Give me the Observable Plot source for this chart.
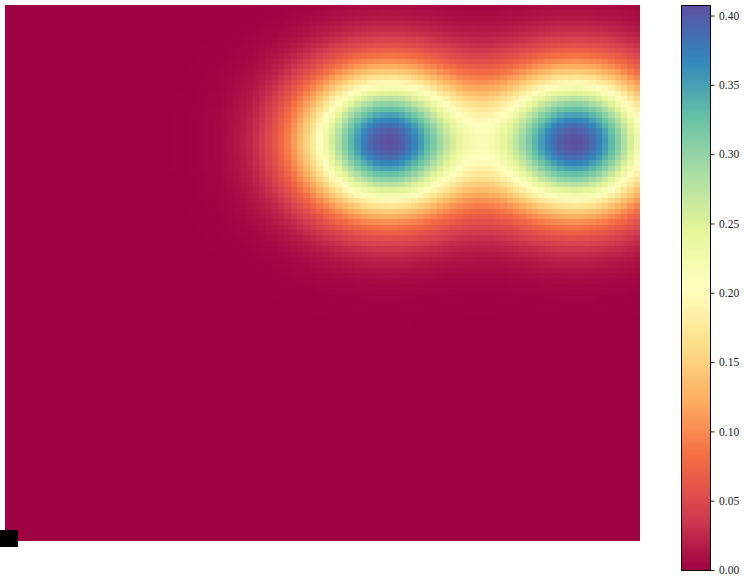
<!DOCTYPE html>
<html><head><meta charset="utf-8">
<script src="https://cdn.jsdelivr.net/npm/d3@7"></script>
<script src="https://cdn.jsdelivr.net/npm/@observablehq/plot@0.6"></script>
<style>
html,body{margin:0;padding:0;background:#fff;}
#wrap{position:relative;width:744px;height:588px;overflow:hidden;}
#wrap svg{position:absolute;left:0;top:0;}
#marker{position:absolute;left:0;top:530px;width:18px;height:17px;background:#000;z-index:5;}
</style></head><body>
<div id="wrap"><div id="marker"></div></div>
<script>
// value along the centre row of the field, per column (left to right)
const xProfile = [
0,0,0,0,0,0,0,0,0,0, 0,0,0,0,0,0,0,0,0,0,
0,0,0.0001,0.0001,0.0002,0.0003,0.0004,0.0006,0.0009,0.0013,
0.0019,0.0028,0.0039,0.0054,0.0074,0.0101,0.0135,0.0179,0.0234,0.0302,
0.0386,0.0487,0.0608,0.0749,0.0911,0.1094,0.1301,0.1525,0.1770,0.2027,
0.2294,0.2563,0.2833,0.3091,0.3332,0.3551,0.3738,0.3888,0.3996,0.4060,
0.4076,0.4046,0.3972,0.3858,0.3710,0.3534,0.3340,0.3136,0.2931,0.2734,
0.2557,0.2404,0.2283,0.2201,0.2157,0.2157,0.2201,0.2283,0.2404,0.2557,
0.2734,0.2931,0.3136,0.3340,0.3534,0.3710,0.3858,0.3972,0.4046,0.4076,
0.4060,0.3996,0.3888,0.3738,0.3551,0.3332,0.3091,0.2833,0.2563,0.2294
];
// relative strength per row (top to bottom)
const yProfile = [
0.0226,0.0305,0.0405,0.0532,0.0691,0.0886,0.1122,0.1404,0.1735,0.2119,
0.2557,0.3049,0.3591,0.4179,0.4803,0.5455,0.6121,0.6785,0.7430,0.8040,
0.8594,0.9076,0.9469,0.9761,0.9940,1.0000,0.9940,0.9761,0.9469,0.9076,
0.8594,0.8040,0.7430,0.6785,0.6121,0.5455,0.4803,0.4179,0.3591,0.3049,
0.2557,0.2119,0.1735,0.1404,0.1122,0.0886,0.0691,0.0532,0.0405,0.0305,
0.0226,0.0166,0.0121,0.0086,0.0061,0.0043,0.0030,0.0020,0.0014,0.0009,
0.0006,0.0004,0.0003,0.0002,0.0001,0,0,0,0,0,
0,0,0,0,0,0,0,0,0,0, 0,0,0,0,0,0,0,0,0,0, 0,0,0,0,0,0,0,0,0,0
];
const colorbarTicks = [0, 0.05, 0.10, 0.15, 0.20, 0.25, 0.30, 0.35, 0.40];
const vmax = 0.4076;
const spectral = ["#9e0142","#d53e4f","#f46d43","#fdae61","#fee08b","#ffffbf","#e6f598","#abdda4","#66c2a5","#3288bd","#5e4fa2"];

const grid = [];
yProfile.forEach((ry, r) => xProfile.forEach((vx, c) => grid.push({row: r, col: c, value: vx * ry})));

const colorScale = {type: "linear", domain: [0, vmax], interpolate: d3.piecewise(d3.interpolateRgb, spectral)};

const heat = Plot.plot({
  width: 744, height: 588,
  marginLeft: 5, marginTop: 5, marginRight: 104, marginBottom: 47,
  x: {type: "band", domain: d3.range(xProfile.length), padding: 0, axis: null},
  y: {type: "band", domain: d3.range(yProfile.length), padding: 0, axis: null},
  color: colorScale,
  marks: [
    Plot.cell(grid, {x: "col", y: "row", fill: "value", inset: 0, shapeRendering: "crispEdges"})
  ]
});

const nSteps = 256;
const steps = d3.range(nSteps).map(i => ({lo: vmax * i / nSteps, hi: vmax * (i + 1) / nSteps}));
const cb = Plot.plot({
  width: 744, height: 588,
  marginLeft: 681, marginRight: 34, marginTop: 5, marginBottom: 18,
  style: {background: "transparent", fontFamily: "'Liberation Serif', serif", fontSize: "11.5px", color: "#222"},
  x: {domain: [0, 1], axis: null},
  y: {domain: [0, vmax], axis: null},
  color: colorScale,
  marks: [
    Plot.rect(steps, {x1: 0, x2: 1, y1: "lo", y2: "hi", fill: d => (d.lo + d.hi) / 2, shapeRendering: "crispEdges"}),
    Plot.frame({stroke: "black", strokeWidth: 1}),
    Plot.axisY({anchor: "right", ticks: colorbarTicks, tickFormat: d3.format(".2f"), tickSize: 3.5, tickPadding: 5, label: null, stroke: "#222", fill: "#222"})
  ]
});

const wrap = document.getElementById("wrap");
wrap.insertBefore(heat, wrap.firstChild);
wrap.insertBefore(cb, document.getElementById("marker"));
</script>
</body></html>
